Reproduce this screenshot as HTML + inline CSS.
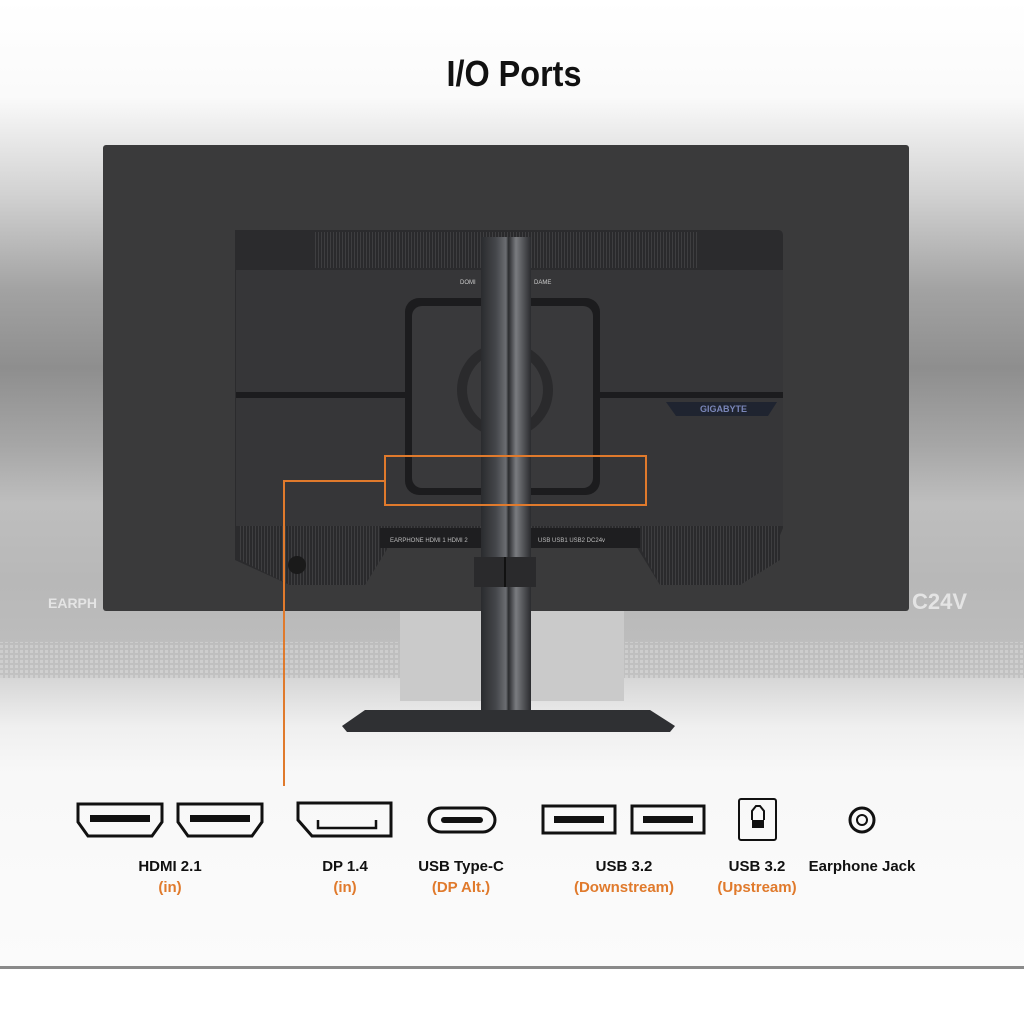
<!DOCTYPE html>
<html><head><meta charset="utf-8"><style>
html,body{margin:0;padding:0;width:1024px;height:1024px;overflow:hidden;background:#fff}
svg{display:block}
text{font-family:"Liberation Sans",sans-serif}
</style></head><body>
<svg width="1024" height="1024" viewBox="0 0 1024 1024" xmlns="http://www.w3.org/2000/svg">
<defs>
<linearGradient id="bg" x1="0" y1="0" x2="0" y2="1">
<stop offset="0" stop-color="#ffffff"/>
<stop offset="0.1" stop-color="#fafafa"/>
<stop offset="0.2" stop-color="#d2d2d2"/>
<stop offset="0.3" stop-color="#a2a2a2"/>
<stop offset="0.38" stop-color="#8e8e8e"/>
<stop offset="0.46" stop-color="#a6a6a6"/>
<stop offset="0.52" stop-color="#bebebe"/>
<stop offset="0.6" stop-color="#b8b8b8"/>
<stop offset="0.66" stop-color="#bcbcbc"/>
<stop offset="0.7" stop-color="#d6d6d6"/>
<stop offset="0.75" stop-color="#efefef"/>
<stop offset="0.8" stop-color="#f8f8f8"/>
<stop offset="1" stop-color="#fbfbfb"/>
</linearGradient>
<linearGradient id="pole" x1="0" y1="0" x2="1" y2="0">
<stop offset="0" stop-color="#2a2b2e"/>
<stop offset="0.3" stop-color="#45474b"/>
<stop offset="0.5" stop-color="#6b6d72"/>
<stop offset="0.55" stop-color="#2a2b2e"/>
<stop offset="0.7" stop-color="#7a7c80"/>
<stop offset="1" stop-color="#2a2b2e"/>
</linearGradient>
<pattern id="dots" width="5" height="5" patternUnits="userSpaceOnUse">
<rect width="5" height="5" fill="#bdbdbd"/><rect width="3" height="3" fill="#cfcfcf"/>
</pattern>
<pattern id="vent" width="3" height="10" patternUnits="userSpaceOnUse">
<rect width="3" height="10" fill="#2a2a2c"/><rect width="1" height="10" fill="#3e3e40"/>
</pattern>
</defs>
<rect width="1024" height="968" fill="url(#bg)"/>
<rect x="0" y="642" width="400" height="36" fill="url(#dots)" opacity="0.8"/>
<rect x="624" y="642" width="400" height="36" fill="url(#dots)" opacity="0.8"/>
<rect x="400" y="611" width="224" height="90" fill="#cacaca"/>
<text x="48" y="608" font-size="14" font-weight="bold" fill="#e4e4e4">EARPH</text>
<text x="912" y="609" font-size="22" font-weight="bold" fill="#e4e4e4">C24V</text>
<text x="514" y="86" text-anchor="middle" font-size="36" font-weight="bold" fill="#111" transform="translate(514 0) scale(0.9 1) translate(-514 0)">I/O Ports</text>
<rect x="103" y="145" width="806" height="466" rx="3" fill="#3a3a3b"/>
<path d="M235 230 H778 Q783 230 783 236 V528 L778 540 V560 L740 585 H660 L625 528 H400 L365 585 H290 L235 560 Z" fill="#2b2b2d"/>
<rect x="315" y="232" width="382" height="36" fill="url(#vent)"/>
<rect x="236" y="270" width="547" height="122" fill="#363638"/>
<rect x="236" y="398" width="547" height="128" fill="#363638"/>
<rect x="236" y="392" width="547" height="6" fill="#1c1c1e"/>
<path d="M240 526 H780 L780 560 L740 585 H660 L630 528 H400 L365 585 H290 L240 560 Z" fill="url(#vent)"/>
<rect x="380" y="528" width="260" height="20" fill="#1e1e20"/>
<text x="390" y="542" font-size="6" fill="#bbb">EARPHONE  HDMI 1    HDMI 2</text>
<text x="538" y="542" font-size="6" fill="#bbb">USB   USB1 USB2 DC24v</text>
<path d="M666 402 H777 L768 416 H676 Z" fill="#1f2430"/>
<text x="700" y="412" font-size="9" font-weight="bold" fill="#7a86b8">GIGABYTE</text>
<text x="460" y="284" font-size="6" fill="#ccc">DOMI</text>
<text x="534" y="284" font-size="6" fill="#ccc">DAME</text>
<rect x="405" y="298" width="195" height="197" rx="14" fill="#1c1c1e"/>
<rect x="412" y="306" width="181" height="182" rx="10" fill="#39393b"/>
<circle cx="505" cy="390" r="48" fill="#2a2a2c"/>
<circle cx="505" cy="390" r="38" fill="#3a3a3c"/>
<rect x="481" y="237" width="50" height="475" fill="url(#pole)"/>
<rect x="474" y="557" width="62" height="30" fill="#2a2a2c"/>
<line x1="505" y1="557" x2="505" y2="587" stroke="#111" stroke-width="2"/>
<path d="M342 726 L365 710 H650 L675 726 L670 732 H347 Z" fill="#2f3033"/>
<circle cx="297" cy="565" r="9" fill="#1a1a1a"/>
<rect x="385" y="456" width="261" height="49" fill="none" stroke="#e07a2c" stroke-width="2"/>
<polyline points="385,481 284,481 284,786" fill="none" stroke="#e07a2c" stroke-width="2"/>
<g fill="none" stroke="#111" stroke-width="3">
<path d="M78 804 H162 V822 L152 836 H88 L78 822 Z"/>
<path d="M178 804 H262 V822 L252 836 H188 L178 822 Z"/>
<path d="M298 803 H391 V836 H312 L298 820 Z"/>
<rect x="429" y="808" width="66" height="24" rx="12"/>
<rect x="543" y="806" width="72" height="27"/>
<rect x="632" y="806" width="72" height="27"/>
<rect x="739" y="799" width="37" height="41" rx="2" stroke-width="2"/>
<circle cx="862" cy="820" r="12"/>
<circle cx="862" cy="820" r="5" stroke-width="2"/>
</g>
<g fill="#111">
<rect x="90" y="815" width="60" height="7"/>
<rect x="190" y="815" width="60" height="7"/>
<rect x="441" y="817" width="42" height="6" rx="3"/>
<rect x="554" y="816" width="50" height="7"/>
<rect x="643" y="816" width="50" height="7"/>
<rect x="752" y="820" width="12" height="8"/>
</g>
<polyline points="318,820 318,828 376,828 376,820" fill="none" stroke="#111" stroke-width="2.5"/>
<path d="M752 820 V811 L756 806 H760 L764 811 V820" fill="none" stroke="#111" stroke-width="2"/>
<g font-size="15" font-weight="bold" text-anchor="middle">
<text x="170" y="871" fill="#111">HDMI 2.1</text>
<text x="170" y="892" fill="#e07a2c">(in)</text>
<text x="345" y="871" fill="#111">DP 1.4</text>
<text x="345" y="892" fill="#e07a2c">(in)</text>
<text x="461" y="871" fill="#111">USB Type-C</text>
<text x="461" y="892" fill="#e07a2c">(DP Alt.)</text>
<text x="624" y="871" fill="#111">USB 3.2</text>
<text x="624" y="892" fill="#e07a2c">(Downstream)</text>
<text x="757" y="871" fill="#111">USB 3.2</text>
<text x="757" y="892" fill="#e07a2c">(Upstream)</text>
<text x="862" y="871" fill="#111">Earphone Jack</text>
</g>
<rect x="0" y="966" width="1024" height="3" fill="#8a8a8a"/>
<rect x="0" y="969" width="1024" height="55" fill="#fff"/>
</svg>
</body></html>
